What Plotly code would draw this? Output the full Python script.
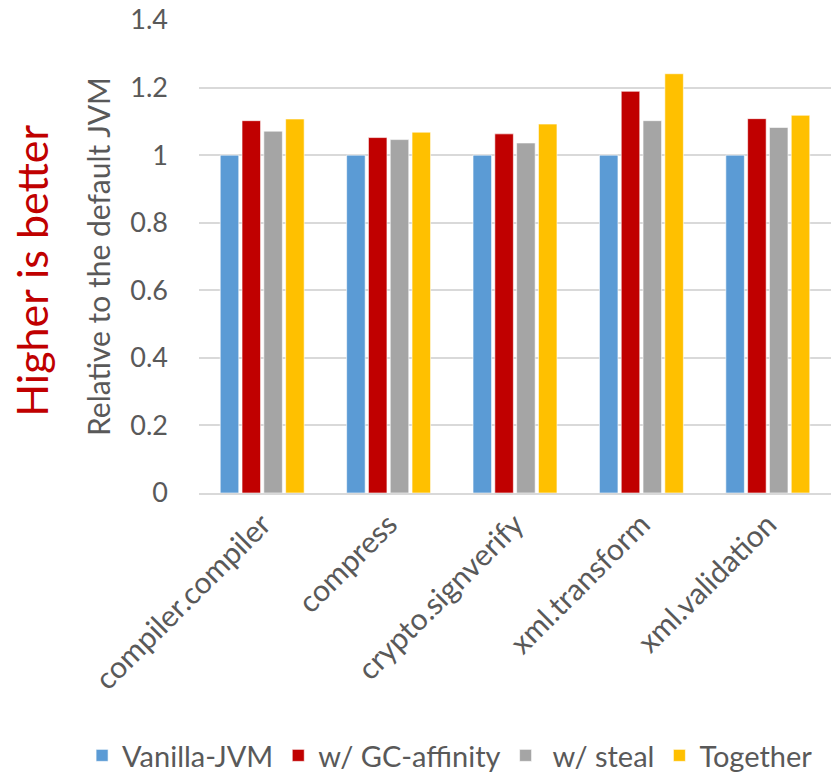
import plotly.graph_objects as go

categories = ["compiler.compiler", "compress", "crypto.signverify", "xml.transform", "xml.validation"]
series_names = ["Vanilla-JVM", "w/ GC-affinity", " w/ steal", "Together"]
vanilla = [1.0, 1.0, 1.0, 1.0, 1.0]
gc_affinity = [1.102, 1.052, 1.063, 1.189, 1.108]
steal = [1.071, 1.046, 1.036, 1.102, 1.082]
together = [1.107, 1.068, 1.092, 1.241, 1.118]
y_ticks = [0, 0.2, 0.4, 0.6, 0.8, 1, 1.2, 1.4]
y_tick_labels = ["0", "0.2", "0.4", "0.6", "0.8", "1", "1.2", "1.4"]

colors = ["#5b9bd5", "#c00000", "#a5a5a5", "#ffc000"]
font_family = "Lato, 'Open Sans', sans-serif"
text_gray = "#595959"

fig = go.Figure()
for name, vals, col in zip(series_names, [vanilla, gc_affinity, steal, together], colors):
    fig.add_trace(go.Bar(
        x=categories, y=vals, name=name,
        marker=dict(color=col, line=dict(color="rgba(255,255,255,0.6)", width=1)),
    ))

fig.update_layout(
    width=837, height=772,
    margin=dict(l=199, r=6, t=20, b=279, autoexpand=False),
    paper_bgcolor="white", plot_bgcolor="white",
    barmode="group", bargap=0.31, bargroupgap=0.15,
    font=dict(family=font_family, color=text_gray, size=28),
    showlegend=True,
    legend=dict(
        orientation="h", xref="paper", yref="paper",
        x=-0.185, xanchor="left", y=-0.555, yanchor="middle",
        font=dict(size=29, color=text_gray), itemwidth=30,
        traceorder="normal", itemclick=False,
        borderwidth=0,
    ),
    xaxis=dict(
        tickangle=-45, showgrid=False, showline=True, linecolor="#d9d9d9", linewidth=2,
        ticks="", tickfont=dict(size=30, color=text_gray), ticklabelstandoff=0,
    ),
    yaxis=dict(
        range=[0, 1.4], tickvals=y_ticks, ticktext=y_tick_labels,
        showgrid=True, gridcolor="#d9d9d9", gridwidth=2, zeroline=False,
        showline=False, ticks="", ticklabelstandoff=30,
        tickfont=dict(size=27, color=text_gray),
        title=dict(text="Relative to the default JVM", font=dict(size=30, color=text_gray), standoff=10),
    ),
    annotations=[dict(
        text="Higher is better", textangle=-90, xref="paper", yref="paper",
        x=-0.265, y=0.469, xanchor="center", yanchor="middle", showarrow=False,
        font=dict(size=43, color="#c00000", family=font_family),
    )],
)

fig.write_html("out.html")
